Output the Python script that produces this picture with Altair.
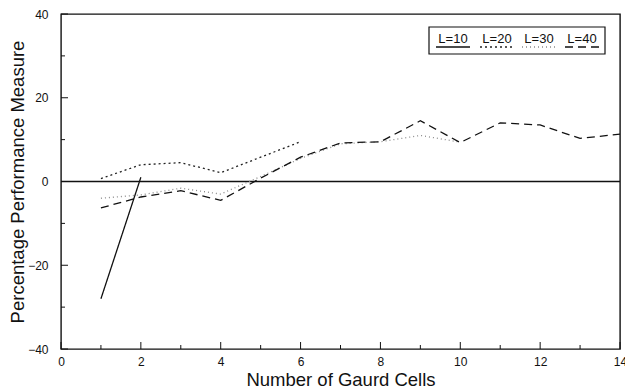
import altair as alt
import pandas as pd

# ---- data ----
series = ["L=10", "L=20", "L=30", "L=40"]
x_l10 = [1, 2]
y_l10 = [-28.0, 1.0]
x_l20 = [1, 2, 3, 4, 5, 6]
y_l20 = [0.7, 4.0, 4.5, 2.1, 5.8, 9.5]
x_l30 = [1, 2, 3, 4, 5, 6, 7, 8, 9, 10]
y_l30 = [-4.0, -3.2, -1.6, -3.0, 1.2, 5.5, 9.0, 9.5, 11.0, 9.4]
x_l40 = [1, 2, 3, 4, 5, 6, 7, 8, 9, 10, 11, 12, 13, 14]
y_l40 = [-6.3, -3.7, -2.2, -4.5, 0.8, 5.8, 9.2, 9.5, 14.5, 9.3, 14.0, 13.5, 10.3, 11.3]
x_major = [0, 2, 4, 6, 8, 10, 12, 14]
x_minor = [1, 3, 5, 7, 9, 11, 13]
y_major = [-40, -20, 0, 20, 40]
y_minor = [-30, -10, 10, 30]

rows = []
for name, xs, ys in zip(series, [x_l10, x_l20, x_l30, x_l40], [y_l10, y_l20, y_l30, y_l40]):
    for a, b in zip(xs, ys):
        rows.append({"series": name, "cells": a, "perf": b})
df = pd.DataFrame(rows)

W, H = 559, 335
FONT = "Liberation Sans"
colors = ["#111111", "#222222", "#8a8a8a", "#111111"]
dashes = [[1, 0], [2, 3], [1, 3], [8, 5]]

xscale = alt.Scale(domain=[0, 14], nice=False, zero=False)
yscale = alt.Scale(domain=[-40, 40], nice=False, zero=False)

base_x = alt.X("cells:Q", scale=xscale,
               axis=alt.Axis(values=x_major, title="Number of Gaurd Cells", ticks=False, domain=False,
                             grid=False, labelFlush=False, labelPadding=7, labelFontSize=12,
                             labelFont=FONT, labelColor="#111", titleFont=FONT, titleFontSize=18.5,
                             titleFontWeight="normal", titleColor="#111", titlePadding=3))
base_y = alt.Y("perf:Q", scale=yscale,
               axis=alt.Axis(values=y_major, title="Percentage Performance Measure", ticks=False,
                             domain=False, grid=False, labelFlush=False, labelPadding=13, labelFontSize=12,
                             labelFont=FONT, labelColor="#111", titleFont=FONT, titleFontSize=18.5,
                             titleFontWeight="normal", titleColor="#111", titlePadding=0))

lines = alt.Chart(df).mark_line(strokeWidth=1.3).encode(
    x=base_x,
    y=base_y,
    color=alt.Color("series:N", scale=alt.Scale(domain=series, range=colors), legend=None),
    strokeDash=alt.StrokeDash("series:N", scale=alt.Scale(domain=series, range=dashes), legend=None),
    detail="series:N",
)

zero = alt.Chart(pd.DataFrame({"perf": [0]})).mark_rule(color="#111", strokeWidth=1.3).encode(
    y=alt.Y("perf:Q", scale=yscale)
)

# inward ticks
xt_major = alt.Chart(pd.DataFrame({"cells": x_major})).mark_rule(color="#111").encode(
    x=alt.X("cells:Q", scale=xscale), y=alt.value(H), y2=alt.value(H - 7))
xt_minor = alt.Chart(pd.DataFrame({"cells": x_minor})).mark_rule(color="#111").encode(
    x=alt.X("cells:Q", scale=xscale), y=alt.value(H), y2=alt.value(H - 4))
yt_major = alt.Chart(pd.DataFrame({"perf": y_major})).mark_rule(color="#111").encode(
    y=alt.Y("perf:Q", scale=yscale), x=alt.value(0), x2=alt.value(7))
yt_minor = alt.Chart(pd.DataFrame({"perf": y_minor})).mark_rule(color="#111").encode(
    y=alt.Y("perf:Q", scale=yscale), x=alt.value(0), x2=alt.value(4))

# custom legend (label with line sample underneath) inside a box
box = alt.Chart(pd.DataFrame({"a": [0]})).mark_rect(fill="white", stroke="#111", strokeWidth=1.2).encode(
    x=alt.value(368), x2=alt.value(544), y=alt.value(13), y2=alt.value(40))
leg_cx = [392, 436, 478, 521]
legend_layers = [box]
for name, cx, col, dsh in zip(series, leg_cx, colors, dashes):
    legend_layers.append(
        alt.Chart(pd.DataFrame({"t": [name]})).mark_text(
            font=FONT, fontSize=13, color="#111", baseline="alphabetic", align="center").encode(
            text="t:N", x=alt.value(cx), y=alt.value(29)))
    legend_layers.append(
        alt.Chart(pd.DataFrame({"t": [name]})).mark_rule(color=col, strokeWidth=1.3, strokeDash=dsh).encode(
            x=alt.value(cx - 17), x2=alt.value(cx + 17), y=alt.value(33)))

chart = alt.layer(zero, lines, xt_major, xt_minor, yt_major, yt_minor, *legend_layers).properties(
    width=W, height=H,
    autosize=alt.AutoSizeParams(type="none"),
    padding={"left": 61, "top": 14, "right": 5, "bottom": 42},
    background="white",
).configure_view(stroke="#111", strokeWidth=1.4)

chart.save("out.html", embed_options={"renderer": "svg", "actions": False})
